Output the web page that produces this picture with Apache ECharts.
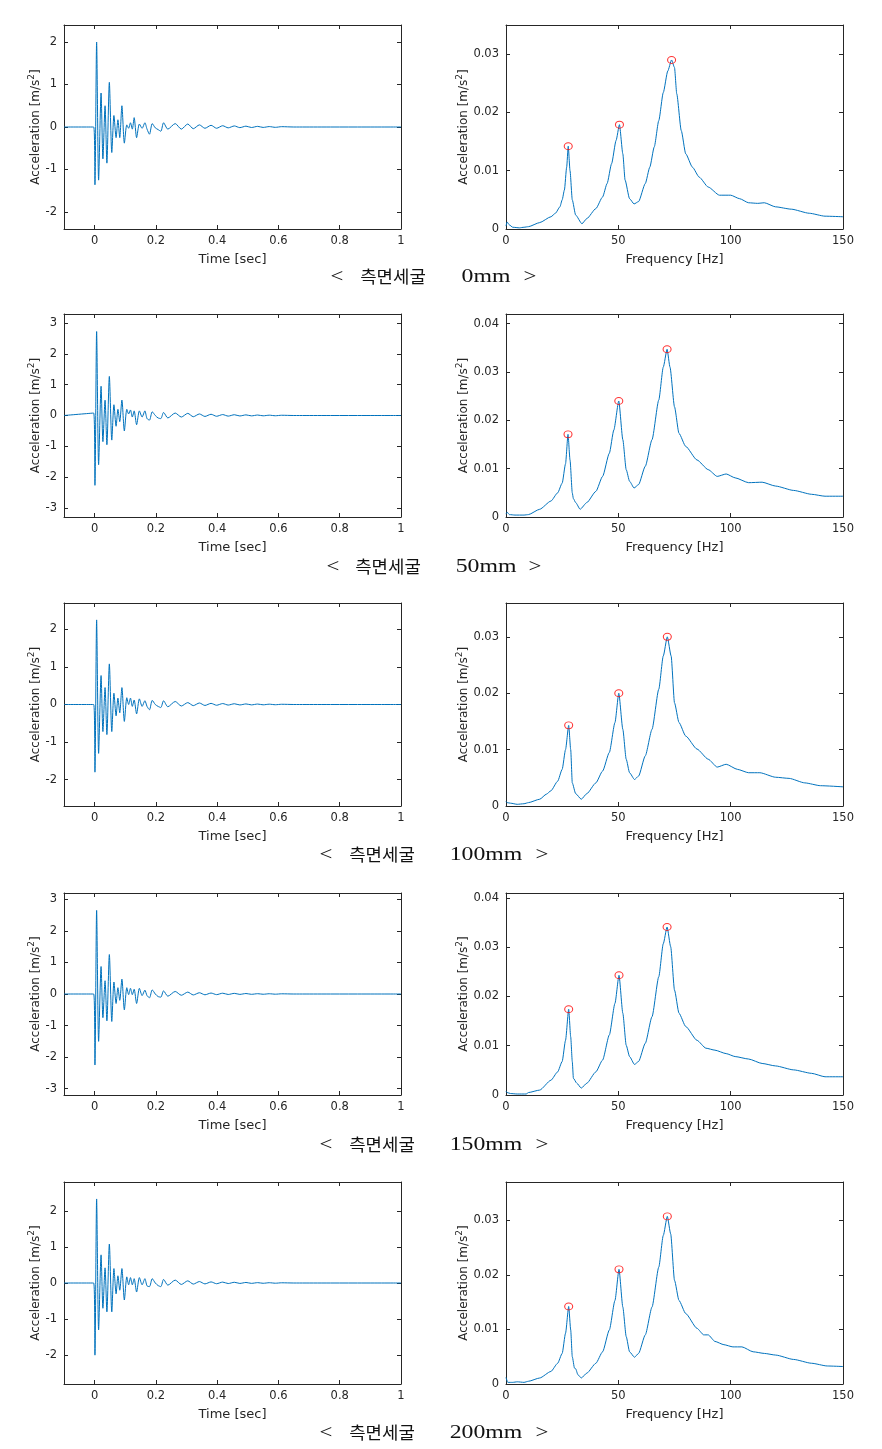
<!DOCTYPE html>
<html><head><meta charset="utf-8">
<script src="https://cdn.jsdelivr.net/npm/echarts@6/dist/echarts.min.js"></script>
<style>html,body{margin:0;padding:0;background:#fff}#c{width:882px;height:1449px}</style>
</head><body><div id="c"></div>
<script>
// ---------- DATA ----------
const captions = ['0mm', '50mm', '100mm', '150mm', '200mm'];
const timeTicks = [0, 0.2, 0.4, 0.6, 0.8, 1];
const freqTicks = [0, 50, 100, 150];
const accelTicks = [[-2,-1,0,1,2],[-3,-2,-1,0,1,2,3],[-2,-1,0,1,2],[-3,-2,-1,0,1,2,3],[-2,-1,0,1,2]];
const accelLimit = [2.4, 3.3, 2.7, 3.2, 2.8];
const specTicks = [[0,0.01,0.02,0.03],[0,0.01,0.02,0.03,0.04],[0,0.01,0.02,0.03],[0,0.01,0.02,0.03,0.04],[0,0.01,0.02,0.03]];
const specLimit = [0.035, 0.042, 0.036, 0.041, 0.037];

// time instants (s) of the read-off extrema of the decaying signals
const timeSec = [-0.1,-0.003,0.001,0.0065,0.013,0.021,0.027,0.034,0.040,0.048,0.056,0.063,0.070,0.076,0.082,0.089,0.097,0.105,0.111,0.117,0.123,0.129,0.137,0.146,0.155,0.164,0.171,0.179,0.188,0.198,0.207,0.216,0.225,0.239,0.263,0.283,0.304,0.322,0.342,0.360,0.380,0.398,0.418,0.436,0.456,0.474,0.494,0.512,0.532,0.550,0.570,0.590,0.610,0.650,1.0];
const accel0mm = [0,0,-1.36,2.0,-1.25,0.8,-0.75,0.5,-0.85,1.05,-0.6,0.27,-0.25,0.17,-0.25,0.5,-0.38,0.05,-0.03,0.1,-0.05,0.22,-0.25,0.07,-0.03,0.1,-0.05,-0.17,0.08,-0.02,-0.06,-0.1,0.1,-0.05,0.08,-0.05,0.07,-0.04,0.05,-0.03,0.04,-0.03,0.03,-0.02,0.025,-0.015,0.02,-0.012,0.015,-0.01,0.01,-0.008,0.008,0,0];
const accel50mm = [0,0.08,-2.27,2.73,-1.6,0.95,-0.85,0.5,-0.95,1.27,-0.8,0.35,-0.35,0.2,-0.2,0.5,-0.5,0.2,0.05,0.18,-0.05,0.15,-0.3,0.15,-0.05,0.15,-0.1,-0.15,0.12,0.0,-0.08,-0.1,0.1,-0.08,0.08,-0.05,0.07,-0.04,0.05,-0.03,0.04,-0.025,0.03,-0.02,0.025,-0.015,0.02,-0.012,0.015,-0.01,0.01,-0.008,0.008,0,0];
const accel100mm = [0,0,-1.8,2.25,-1.3,0.77,-0.72,0.45,-0.8,1.08,-0.72,0.3,-0.3,0.17,-0.22,0.45,-0.45,0.18,0.0,0.17,-0.05,0.12,-0.25,0.15,-0.05,0.1,-0.05,-0.14,0.11,0.0,-0.05,-0.08,0.1,-0.06,0.08,-0.04,0.05,-0.03,0.04,-0.025,0.03,-0.02,0.025,-0.015,0.02,-0.012,0.015,-0.01,0.012,-0.008,0.008,-0.006,0.006,0,0];
const accel150mm = [0,0,-2.25,2.65,-1.5,0.87,-0.75,0.42,-0.85,1.25,-0.87,0.38,-0.3,0.2,-0.2,0.47,-0.5,0.2,-0.02,0.18,-0.02,0.15,-0.3,0.18,-0.05,0.12,-0.05,-0.12,0.13,0.0,-0.08,-0.1,0.1,-0.07,0.08,-0.04,0.06,-0.03,0.04,-0.025,0.03,-0.02,0.025,-0.015,0.02,-0.012,0.015,-0.01,0.01,-0.008,0.008,-0.006,0.006,0,0];
const accel200mm = [0,0,-2.0,2.33,-1.3,0.78,-0.7,0.42,-0.8,1.08,-0.8,0.4,-0.3,0.2,-0.2,0.4,-0.47,0.17,-0.05,0.15,-0.05,0.12,-0.25,0.15,-0.05,0.12,-0.08,-0.1,0.12,0.0,-0.07,-0.1,0.1,-0.06,0.08,-0.04,0.06,-0.03,0.04,-0.025,0.03,-0.02,0.025,-0.015,0.02,-0.012,0.015,-0.01,0.01,-0.008,0.008,-0.006,0.006,0,0];

// spectra: [frequency Hz, amplitude m/s^2]
const spec0mm = [[0,0.0005],[0.5,0.0012],[1.5,0.0007],[3,0.0003],[6,0.0002],[8,0.0003],[10,0.0004],[15,0.0011],[20,0.0021],[22,0.0027],[24,0.0038],[25,0.005],[26,0.0067],[27,0.0106],[27.7,0.0142],[28.5,0.010],[29.5,0.005],[31,0.0024],[33.8,0.0009],[36,0.0018],[40,0.0035],[43,0.0055],[45,0.0078],[47,0.0112],[49,0.0152],[50.5,0.0179],[52,0.0129],[53,0.0084],[55,0.0052],[57,0.0043],[59,0.0047],[62,0.0078],[64,0.0106],[66,0.0141],[68,0.0186],[70,0.0234],[72,0.0271],[73.7,0.029],[75,0.0277],[76,0.0232],[78,0.0169],[80,0.0129],[83,0.0106],[86,0.0089],[90,0.0072],[95,0.0058],[100,0.0058],[104,0.0052],[108,0.0045],[112,0.0044],[115,0.0045],[120,0.0038],[127,0.0034],[135,0.0027],[142,0.0022],[150,0.0021]];
const spec50mm = [[0,0.0006],[0.5,0.001],[1.5,0.0005],[4,0.0004],[8,0.0004],[10,0.0005],[15,0.0016],[20,0.0033],[23,0.005],[25,0.007],[26.5,0.011],[27.6,0.0171],[28.5,0.0118],[29.5,0.005],[30,0.0038],[31,0.003],[33,0.0016],[36,0.003],[40,0.0053],[43,0.0084],[46,0.0132],[48,0.018],[50.2,0.024],[52,0.016],[53.5,0.0098],[55,0.0074],[57,0.006],[59,0.0067],[62,0.0105],[65,0.016],[68,0.0242],[70,0.031],[71.7,0.0347],[73,0.031],[75,0.0228],[77,0.0173],[80,0.0146],[85,0.0118],[90,0.0098],[94,0.0084],[98,0.0089],[102,0.0081],[108,0.0071],[114,0.0072],[120,0.0064],[128,0.0055],[136,0.0047],[142,0.0043],[150,0.0043]];
const spec100mm = [[0,0.0008],[0.5,0.0006],[2,0.0005],[5,0.0003],[8,0.0004],[10,0.0006],[15,0.0012],[18,0.0021],[20,0.0027],[23,0.0044],[25,0.0065],[26.5,0.01],[27.9,0.0143],[28.8,0.01],[29.5,0.0041],[31,0.0022],[33.5,0.0012],[36,0.0022],[40,0.0041],[43,0.0062],[46,0.0095],[48.5,0.0148],[50.2,0.02],[52,0.0136],[53.5,0.0083],[55,0.0059],[57.2,0.0047],[59,0.0053],[62,0.0089],[65,0.0136],[68,0.0207],[70,0.0266],[71.8,0.03],[73.5,0.0266],[75,0.0183],[77,0.0148],[80,0.0124],[85,0.0101],[90,0.0083],[94,0.0069],[98,0.0074],[103,0.0065],[108,0.0059],[113,0.0059],[120,0.0051],[126,0.0049],[133,0.0041],[140,0.0036],[150,0.0034]];
const spec150mm = [[0,0.0008],[0.5,0.0005],[2,0.0003],[5,0.0002],[9,0.0002],[10,0.0005],[15,0.001],[20,0.003],[23,0.0047],[25,0.0068],[26.5,0.0111],[27.9,0.0174],[28.8,0.0118],[29.5,0.0068],[30,0.0034],[31.5,0.0024],[33.5,0.0014],[36,0.0024],[40,0.0047],[43,0.0071],[46,0.0122],[48.5,0.0186],[50.3,0.0243],[52,0.0166],[53.5,0.0101],[55,0.0078],[57.2,0.0062],[59,0.0068],[62,0.0105],[65,0.0159],[68,0.024],[70,0.0307],[71.7,0.0341],[73.3,0.0301],[75,0.0213],[77,0.0166],[80,0.0139],[85,0.0111],[89,0.0095],[93,0.0091],[98,0.0084],[102,0.0078],[108,0.0073],[114,0.0064],[120,0.0059],[128,0.0051],[136,0.0044],[142,0.0037],[150,0.0037]];
const spec200mm = [[0,0.0012],[0.8,0.0003],[3,0.0003],[5,0.0004],[8,0.0003],[10,0.0005],[15,0.0011],[20,0.0023],[23,0.0038],[25,0.0056],[26.5,0.0093],[27.9,0.0142],[28.8,0.0099],[29.5,0.005],[30.5,0.0029],[31,0.0028],[32,0.0017],[33.5,0.0011],[36,0.002],[40,0.0038],[43,0.0059],[46,0.0099],[48.5,0.0153],[50.3,0.021],[52,0.0141],[53.5,0.0087],[55,0.0059],[57.2,0.0049],[59,0.0056],[62,0.009],[65,0.0141],[68,0.0214],[70,0.0272],[71.8,0.0307],[73.3,0.0275],[75,0.019],[77,0.0153],[80,0.0129],[85,0.0102],[88,0.009],[90,0.009],[93,0.0078],[97,0.0072],[101,0.0068],[105,0.0068],[110,0.0059],[115,0.0056],[120,0.0053],[128,0.0045],[136,0.0038],[143,0.0033],[150,0.0032]];

const peaks0mm = [[27.7,0.0142],[50.5,0.0179],[73.7,0.029]];
const peaks50mm = [[27.6,0.0171],[50.2,0.024],[71.7,0.0347]];
const peaks100mm = [[27.9,0.0143],[50.2,0.02],[71.8,0.03]];
const peaks150mm = [[27.9,0.0174],[50.3,0.0243],[71.7,0.0341]];
const peaks200mm = [[27.9,0.0142],[50.3,0.021],[71.8,0.0307]];

const accelSets = [accel0mm, accel50mm, accel100mm, accel150mm, accel200mm];
const specSets = [spec0mm, spec50mm, spec100mm, spec150mm, spec200mm];
const peakSets = [peaks0mm, peaks50mm, peaks100mm, peaks150mm, peaks200mm];

// ---------- LAYOUT / STYLE ----------
const FONT = 'DejaVu Sans';
const AX = '#262626';
const LINE = '#0072BD';
const gridTop = [25, 314, 603, 893, 1182];
const gridH = [204, 203, 203, 202, 202];
const leftX = 64, rightX = 506, plotW = 337;
const capY = [277, 567, 855, 1145, 1433];
const capPos = [[337,393,486,530],[333,388,486,535],[326,382,486,542],[326,382,486,542],[326,382,486,542]];

const yName = '{a|Acceleration [m/s}{s|2}{a|]}';
const yRich = {
  a: {fontFamily: FONT, fontSize: 12, color: AX, verticalAlign: 'bottom', lineHeight: 14},
  s: {fontFamily: FONT, fontSize: 9, color: AX, verticalAlign: 'top', lineHeight: 14}
};

const grids = [], xAxes = [], yAxes = [], series = [], graphics = [];

function lineStyle() { return {color: AX, width: 1}; }

function addAxes(gi, xmin, xmax, xticks, xname, ymin, ymax, yticks, yGap) {
  const common = {type: 'value', gridIndex: gi, splitLine: {show: false}};
  xAxes.push(Object.assign({}, common, {
    min: xmin, max: xmax, position: 'bottom',
    axisLine: {show: true, onZero: false, lineStyle: lineStyle()},
    axisTick: {show: true, inside: true, length: 4, customValues: xticks, lineStyle: lineStyle()},
    axisLabel: {show: true, customValues: xticks, color: AX, fontFamily: FONT, fontSize: 11.5, margin: 6},
    name: xname, nameLocation: 'middle', nameGap: 24,
    nameTextStyle: {fontFamily: FONT, fontSize: 13, color: AX}
  }));
  xAxes.push(Object.assign({}, common, {
    min: xmin, max: xmax, position: 'top',
    axisLine: {show: true, onZero: false, lineStyle: lineStyle()},
    axisTick: {show: true, inside: true, length: 4, customValues: xticks, lineStyle: lineStyle()},
    axisLabel: {show: false}
  }));
  yAxes.push(Object.assign({}, common, {
    min: ymin, max: ymax, position: 'left',
    axisLine: {show: true, onZero: false, lineStyle: lineStyle()},
    axisTick: {show: true, inside: true, length: 4, customValues: yticks, lineStyle: lineStyle()},
    axisLabel: {show: true, customValues: yticks, color: AX, fontFamily: FONT, fontSize: 11.5, margin: 7},
    name: yName, nameLocation: 'middle', nameGap: yGap,
    nameTextStyle: {rich: yRich}
  }));
  yAxes.push(Object.assign({}, common, {
    min: ymin, max: ymax, position: 'right',
    axisLine: {show: true, onZero: false, lineStyle: lineStyle()},
    axisTick: {show: true, inside: true, length: 4, customValues: yticks, lineStyle: lineStyle()},
    axisLabel: {show: false}
  }));
}

for (let p = 0; p < 5; p++) {
  // time-domain grid
  const gL = grids.length;
  grids.push({left: leftX, top: gridTop[p], width: plotW, height: gridH[p]});
  addAxes(gL, -0.1, 1, timeTicks, 'Time [sec]', -accelLimit[p], accelLimit[p], accelTicks[p], 20);
  series.push({
    type: 'line', xAxisIndex: 2 * gL, yAxisIndex: 2 * gL, showSymbol: false, symbol: 'none',
    lineStyle: {color: LINE, width: 1}, smooth: 0.25, animation: false,
    data: timeSec.map((t, i) => [t, accelSets[p][i]])
  });
  // spectrum grid
  const gR = grids.length;
  grids.push({left: rightX, top: gridTop[p], width: plotW, height: gridH[p]});
  addAxes(gR, 0, 150, freqTicks, 'Frequency [Hz]', 0, specLimit[p], specTicks[p], 34);
  series.push({
    type: 'line', xAxisIndex: 2 * gR, yAxisIndex: 2 * gR, showSymbol: false, symbol: 'none',
    lineStyle: {color: LINE, width: 1}, smooth: 0.2, smoothMonotone: 'x', animation: false,
    data: specSets[p]
  });
  series.push({
    type: 'scatter', xAxisIndex: 2 * gR, yAxisIndex: 2 * gR, symbol: 'circle', symbolSize: [8, 7],
    itemStyle: {color: 'rgba(0,0,0,0)', borderColor: '#ff0000', borderWidth: 1}, z: 5, animation: false,
    data: peakSets[p]
  });
  // caption
  const cp = capPos[p];
  const mk = (x, text, font, sx) => ({
    type: 'text', x: x, y: capY[p], scaleX: sx, silent: true,
    style: {text: text, font: font, fill: '#111', align: 'center', textAlign: 'center', verticalAlign: 'middle', textVerticalAlign: 'middle'}
  });
  graphics.push(mk(cp[0], '<', '19px "Liberation Serif"', 1.2));
  graphics.push(mk(cp[1], '측면세굴', '17px "Noto Sans CJK KR"', 1.05));
  graphics.push(mk(cp[2], captions[p], '19px "Liberation Serif"', 1.25));
  graphics.push(mk(cp[3], '>', '19px "Liberation Serif"', 1.2));
}

const chart = echarts.init(document.getElementById('c'), null, {renderer: 'canvas'});
chart.setOption({
  backgroundColor: '#fff',
  animation: false,
  grid: grids,
  xAxis: xAxes,
  yAxis: yAxes,
  series: series,
  graphic: graphics
});
</script></body></html>
